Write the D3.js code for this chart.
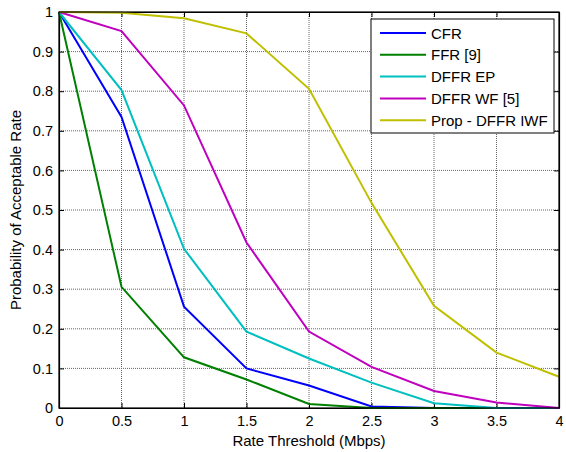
<!DOCTYPE html>
<html>
<head>
<meta charset="utf-8">
<script src="https://cdn.jsdelivr.net/npm/d3@7"></script>
<style>
  body { margin: 0; background: #fff; }
  svg { display: block; font-family: "Liberation Sans", Arial, sans-serif; }
</style>
</head>
<body>
<svg id="chart" width="566" height="452"></svg>
<script>
// Rate thresholds (Mbps)
const thresholds = [0, 0.5, 1, 1.5, 2, 2.5, 3, 3.5, 4];

// Probability of acceptable rate for each scheme
const cfr      = [1, 0.735, 0.256, 0.100, 0.057, 0.004, 0, 0, 0];
const ffr      = [1, 0.306, 0.128, 0.072, 0.010, 0, 0, 0, 0];
const dffrEp   = [1, 0.803, 0.402, 0.193, 0.125, 0.064, 0.012, 0, 0];
const dffrWf   = [1, 0.952, 0.764, 0.418, 0.193, 0.104, 0.043, 0.014, 0];
const propIwf  = [1, 0.998, 0.984, 0.946, 0.806, 0.518, 0.258, 0.140, 0.079];

const seriesNames  = ["CFR", "FFR [9]", "DFFR EP", "DFFR WF [5]", "Prop - DFFR IWF"];
const seriesValues = [cfr, ffr, dffrEp, dffrWf, propIwf];
const seriesColors = ["#0000ff", "#008000", "#00bfbf", "#bf00bf", "#bfbf00"];

const xTicks = [0, 0.5, 1, 1.5, 2, 2.5, 3, 3.5, 4];
const yTicks = [0, 0.1, 0.2, 0.3, 0.4, 0.5, 0.6, 0.7, 0.8, 0.9, 1];

const svg = d3.select("#chart");
const plotL = 59, plotR = 559, plotT = 12, plotB = 408;

const x = d3.scaleLinear().domain([0, 4]).range([plotL, plotR]);
const y = d3.scaleLinear().domain([0, 1]).range([plotB, plotT]);

// Dotted grid
const grid = svg.append("g");
grid.selectAll("line.gx").data(xTicks.slice(1, -1)).join("line")
  .attr("x1", d => x(d)).attr("x2", d => x(d))
  .attr("y1", plotT).attr("y2", plotB)
  .attr("stroke", "#666").attr("stroke-width", 1).attr("stroke-dasharray", "1,1");
grid.selectAll("line.gy").data(yTicks.slice(1, -1)).join("line")
  .attr("x1", plotL).attr("x2", plotR)
  .attr("y1", d => y(d)).attr("y2", d => y(d))
  .attr("stroke", "#666").attr("stroke-width", 1).attr("stroke-dasharray", "1,1");

// Axes with inward ticks on all four sides
const fmt = d3.format("~g");
const xb = svg.append("g").attr("transform", `translate(0,${plotB})`)
  .call(d3.axisBottom(x).tickValues(xTicks).tickFormat(fmt).tickSizeInner(-5).tickSizeOuter(0).tickPadding(8));
const xt = svg.append("g").attr("transform", `translate(0,${plotT})`)
  .call(d3.axisTop(x).tickValues(xTicks).tickFormat("").tickSizeInner(-5).tickSizeOuter(0));
const yl = svg.append("g").attr("transform", `translate(${plotL},0)`)
  .call(d3.axisLeft(y).tickValues(yTicks).tickFormat(fmt).tickSizeInner(-5).tickSizeOuter(0).tickPadding(6));
const yr = svg.append("g").attr("transform", `translate(${plotR},0)`)
  .call(d3.axisRight(y).tickValues(yTicks).tickFormat("").tickSizeInner(-5).tickSizeOuter(0));

[xb, xt, yl, yr].forEach(g => {
  g.selectAll(".domain").attr("stroke", "#000").attr("stroke-width", 1.2);
  g.selectAll(".tick line").attr("stroke", "#000");
  g.selectAll(".tick text").attr("fill", "#000").attr("font-size", 14.5)
    .attr("font-family", "Liberation Sans, Arial, sans-serif");
});

// Series lines
const line = d3.line().x((d, i) => x(thresholds[i])).y(d => y(d));
svg.append("g").selectAll("path").data(seriesValues).join("path")
  .attr("d", d => line(d))
  .attr("fill", "none")
  .attr("stroke", (d, i) => seriesColors[i])
  .attr("stroke-width", 2);

// Outer frame
svg.append("rect").attr("x", plotL).attr("y", plotT)
  .attr("width", plotR - plotL).attr("height", plotB - plotT)
  .attr("fill", "none").attr("stroke", "#000").attr("stroke-width", 1.2);

// Axis titles
svg.append("text").attr("x", (plotL + plotR) / 2).attr("y", 446)
  .attr("text-anchor", "middle").attr("font-size", 15).text("Rate Threshold (Mbps)");
svg.append("text").attr("transform", `translate(21,${(plotT + plotB) / 2}) rotate(-90)`)
  .attr("text-anchor", "middle").attr("font-size", 15).text("Probability of Acceptable Rate");

// Legend
const lg = svg.append("g");
lg.append("rect").attr("x", 371).attr("y", 19).attr("width", 183).attr("height", 114)
  .attr("fill", "#fff").attr("stroke", "#000").attr("stroke-width", 1);
const rows = lg.selectAll("g.row").data(seriesNames).join("g")
  .attr("transform", (d, i) => `translate(0,${33 + i * 21.8})`);
rows.append("line").attr("x1", 380).attr("x2", 426).attr("y1", 0).attr("y2", 0)
  .attr("stroke", (d, i) => seriesColors[i]).attr("stroke-width", 2);
rows.append("text").attr("x", 431).attr("y", 5.5).attr("font-size", 15).text(d => d);
</script>
</body>
</html>
